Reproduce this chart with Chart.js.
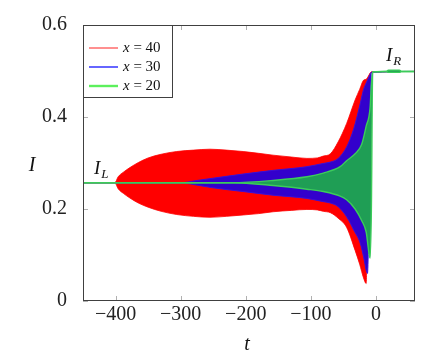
<!DOCTYPE html>
<html>
<head>
<meta charset="utf-8">
<script src="https://cdn.jsdelivr.net/npm/chart.js@4"></script>
<style>
	html, body { margin: 0; padding: 0; background: #fff; }
</style>
</head>
<body>
<canvas id="chart" width="436" height="364"></canvas>
<script>
// envelopes of the oscillating current (t, upper, lower)
const redT = [-450, -401, -396, -388, -378, -365, -350, -330, -306, -280, -255, -230, -204, -180, -158, -130, -106, -90, -81, -70, -58, -45, -32, -25, -19, -15, -12, -9, -6, 60]
const redUpper = [0.257, 0.257, 0.270, 0.280, 0.290, 0.301, 0.311, 0.319, 0.325, 0.328, 0.330, 0.328, 0.325, 0.321, 0.317, 0.313, 0.310, 0.311, 0.315, 0.320, 0.346, 0.386, 0.437, 0.460, 0.480, 0.482, 0.488, 0.495, 0.498, 0.499]
const redLower = [0.257, 0.257, 0.244, 0.234, 0.224, 0.213, 0.204, 0.195, 0.188, 0.184, 0.182, 0.184, 0.187, 0.190, 0.194, 0.197, 0.199, 0.198, 0.195, 0.192, 0.180, 0.160, 0.110, 0.080, 0.050, 0.038, 0.300, 0.495, 0.498, 0.499]

const blueT = [-450, -300, -275, -250, -204, -158, -106, -81, -70, -58, -45, -34, -24, -19, -13, -10, -7, 60]
const blueUpper = [0.257, 0.257, 0.262, 0.267, 0.276, 0.284, 0.292, 0.299, 0.302, 0.310, 0.335, 0.375, 0.430, 0.460, 0.480, 0.490, 0.497, 0.499]
const blueLower = [0.257, 0.257, 0.252, 0.246, 0.238, 0.230, 0.223, 0.216, 0.213, 0.205, 0.183, 0.154, 0.125, 0.096, 0.060, 0.250, 0.497, 0.499]

const greenT = [-450, -220, -158, -106, -81, -55, -45, -32, -22, -15, -9, -7, -5, 16, 19, 36, 40, 60]
const greenUpper = [0.257, 0.257, 0.262, 0.270, 0.278, 0.292, 0.305, 0.320, 0.340, 0.380, 0.420, 0.470, 0.498, 0.499, 0.502, 0.502, 0.499, 0.499]
const greenLower = [0.257, 0.257, 0.251, 0.243, 0.238, 0.228, 0.220, 0.200, 0.175, 0.150, 0.093, 0.200, 0.498, 0.499, 0.497, 0.497, 0.499, 0.499]

const seriesLabels = ["x = 40", "x = 30", "x = 20"]
const xTicks = [-400, -300, -200, -100, 0]
const yTicks = [0, 0.2, 0.4, 0.6]

const SERIF = "'Liberation Serif', 'DejaVu Serif', serif"
const FRAME = "#404040"

const styles = [
	{ line: "#ff0000", fill: "#ff0000", width: 0.8, legend: "#ff2020" },
	{ line: "#3a10d8", fill: "#3300cc", width: 1, legend: "#4040ff" },
	{ line: "#3ccc5a", fill: "#1f9e55", width: 1.4, legend: "#5cf05c" },
]

function toPoints(ts, ys) {
	return ts.map((t, i) => ({ x: t, y: ys[i] }))
}

function bandDatasets(ts, upper, lower, style, order) {
	const common = {
		borderColor: style.line,
		borderWidth: style.width,
		pointRadius: 0,
		cubicInterpolationMode: "monotone",
		order,
	}
	return [
		{ ...common, data: toPoints(ts, upper), fill: false },
		{ ...common, data: toPoints(ts, lower), fill: "-1", backgroundColor: style.fill },
	]
}

function generateDatasets() {
	return [
		...bandDatasets(redT, redUpper, redLower, styles[0], 3),
		...bandDatasets(blueT, blueUpper, blueLower, styles[1], 2),
		...bandDatasets(greenT, greenUpper, greenLower, styles[2], 1),
	]
}

function formatX(v) {
	return v < 0 ? "\u2212" + Math.abs(v) : String(v)
}

function drawItalicSub(ctx, main, sub, x, y, size) {
	ctx.font = "italic " + size + "px " + SERIF
	ctx.fillText(main, x, y)
	const w = ctx.measureText(main).width
	ctx.font = "italic " + Math.round(size * 0.7) + "px " + SERIF
	ctx.fillText(sub, x + w + 1, y + 4)
}

const decorations = {
	id: "decorations",
	beforeDatasetsDraw(chart) {
		const { ctx, chartArea: a, scales } = chart
		ctx.save()
		ctx.strokeStyle = "#b0b0b0"
		ctx.lineWidth = 1
		ctx.beginPath()
		xTicks.forEach((v) => {
			const px = Math.round(scales.x.getPixelForValue(v)) + 0.5
			ctx.moveTo(px, a.bottom)
			ctx.lineTo(px, a.bottom - 5)
			ctx.moveTo(px, a.top)
			ctx.lineTo(px, a.top + 5)
		})
		yTicks.forEach((v) => {
			const py = Math.round(scales.y.getPixelForValue(v)) + 0.5
			ctx.moveTo(a.left, py)
			ctx.lineTo(a.left + 5, py)
			ctx.moveTo(a.right, py)
			ctx.lineTo(a.right - 5, py)
		})
		ctx.stroke()
		ctx.restore()
	},
	afterDraw(chart) {
		const { ctx, chartArea: a } = chart
		ctx.save()
		ctx.strokeStyle = FRAME
		ctx.lineWidth = 1
		ctx.strokeRect(a.left + 0.5, a.top + 0.5, a.right - a.left - 1, a.bottom - a.top - 1)

		// legend box in the upper left corner
		const box = { x: a.left + 0.5, y: a.top + 0.5, w: 89, h: 72 }
		ctx.fillStyle = "#fff"
		ctx.fillRect(box.x, box.y, box.w, box.h)
		ctx.strokeRect(box.x, box.y, box.w, box.h)
		seriesLabels.forEach((label, i) => {
			const y = a.top + 23 + i * 19
			ctx.strokeStyle = styles[i].legend
			ctx.lineWidth = i === 0 ? 1 : i === 1 ? 1.6 : 2.4
			ctx.beginPath()
			ctx.moveTo(a.left + 6, y)
			ctx.lineTo(a.left + 35, y)
			ctx.stroke()
			ctx.fillStyle = "#111"
			ctx.textBaseline = "middle"
			ctx.font = "italic 15px " + SERIF
			ctx.fillText(label.slice(0, 1), a.left + 40, y)
			const w = ctx.measureText(label.slice(0, 1)).width
			ctx.font = "15px " + SERIF
			ctx.fillText(label.slice(1), a.left + 40 + w, y)
		})

		ctx.fillStyle = "#111"
		ctx.textBaseline = "alphabetic"
		ctx.textAlign = "left"
		drawItalicSub(ctx, "I", "L", 94, 174, 19)
		drawItalicSub(ctx, "I", "R", 386, 61, 19)
		ctx.font = "italic 20px " + SERIF
		ctx.textAlign = "center"
		ctx.fillText("I", 32, 171)
		ctx.fillText("t", 247, 350)
		ctx.restore()
	},
}

function generateGraph(context) {
	return new Chart(context, {
		type: "line",
		data: { datasets: generateDatasets() },
		plugins: [decorations],
		options: {
			responsive: false,
			animation: false,
			layout: { padding: { left: 0, top: 25, right: 21, bottom: 0 } },
			plugins: { legend: { display: false }, tooltip: { enabled: false } },
			scales: {
				x: {
					type: "linear",
					min: -450,
					max: 60,
					grid: { display: false },
					border: { display: false },
					afterBuildTicks: (scale) => {
						scale.ticks = xTicks.map((value) => ({ value }))
					},
					afterFit: (scale) => {
						scale.height = 63
					},
					ticks: {
						autoSkip: false,
						maxRotation: 0,
						padding: -6,
						color: "#222",
						font: { family: SERIF, size: 20 },
						callback: formatX,
					},
				},
				y: {
					type: "linear",
					min: 0,
					max: 0.6,
					grid: { display: false },
					border: { display: false },
					afterBuildTicks: (scale) => {
						scale.ticks = yTicks.map((value) => ({ value }))
					},
					afterFit: (scale) => {
						scale.width = 83
					},
					ticks: {
						padding: 8,
						color: "#222",
						font: { family: SERIF, size: 20 },
						callback: (v) => (v === 0 ? "0" : v.toFixed(1)),
					},
				},
			},
		},
	})
}

generateGraph(document.getElementById("chart"))
</script>
</body>
</html>
